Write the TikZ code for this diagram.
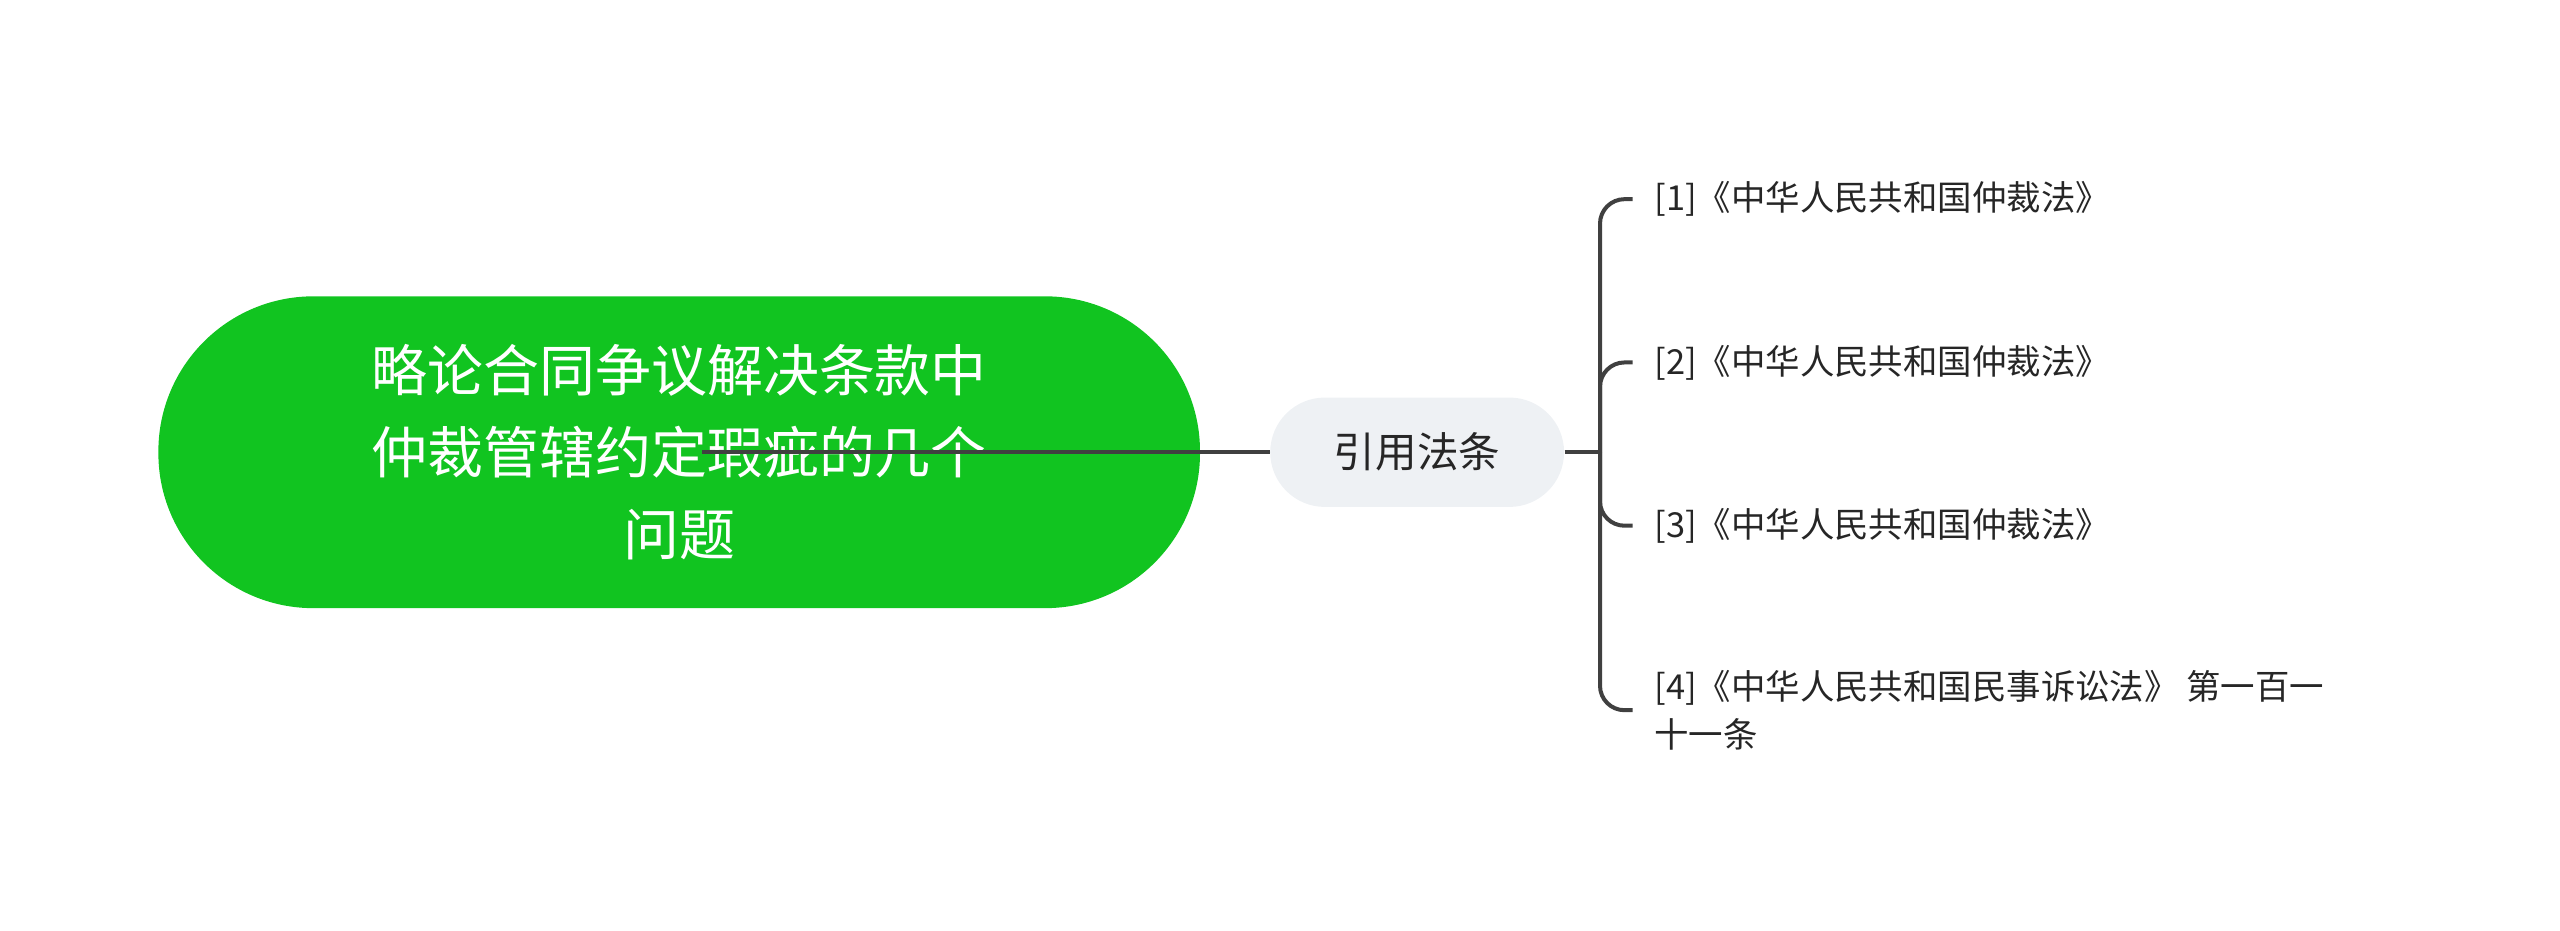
\documentclass[tikz,border=0pt]{standalone}
\usepackage{fontspec}
\setmainfont{Noto Sans CJK SC}
\definecolor{rootgreen}{RGB}{17,196,32}
\definecolor{midgray}{RGB}{238,241,244}
\begin{document}
\begin{tikzpicture}[x=0.02cm,y=-0.02cm,
  conn/.style={draw=black!75,line width=1.4pt},
  leaf/.style={anchor=west,font=\fontsize{12}{17}\selectfont,text=black!85,inner sep=0pt,align=left}]
\useasboundingbox (0,0) rectangle (1568,570);
\node[fill=rootgreen,draw=none,rounded corners=1.9cm,minimum width=638*0.02cm,minimum height=191*0.02cm,text=white,align=center,font=\fontsize{19.5}{28.5}\selectfont] (root) at (416,277) {略论合同争议解决条款中\\仲裁管辖约定瑕疵的几个\\问题};
\node[fill=midgray,rounded corners=0.67cm,minimum width=180*0.02cm,minimum height=67*0.02cm,font=\fontsize{14.5}{18}\selectfont,text=black!85] (mid) at (868,277) {引用法条};
\coordinate (rs) at (430,277);
\draw[conn] (rs) -- (mid.west);
\node[leaf] (c1) at (1013,122) {[1]《中华人民共和国仲裁法》};
\node[leaf] (c2) at (1013,222) {[2]《中华人民共和国仲裁法》};
\node[leaf] (c3) at (1013,322) {[3]《中华人民共和国仲裁法》};
\node[leaf] (c4) at (1013,435) {[4]《中华人民共和国民事诉讼法》 第一百一\\十一条};
\coordinate (br) at (980,277);
\draw[conn] (mid.east) -- (br);
\foreach \c in {c1,c2,c3,c4}{
  \draw[conn,rounded corners=0.3cm] (br) |- ([xshift=-0.26cm]\c.west);
}
\end{tikzpicture}
\end{document}
